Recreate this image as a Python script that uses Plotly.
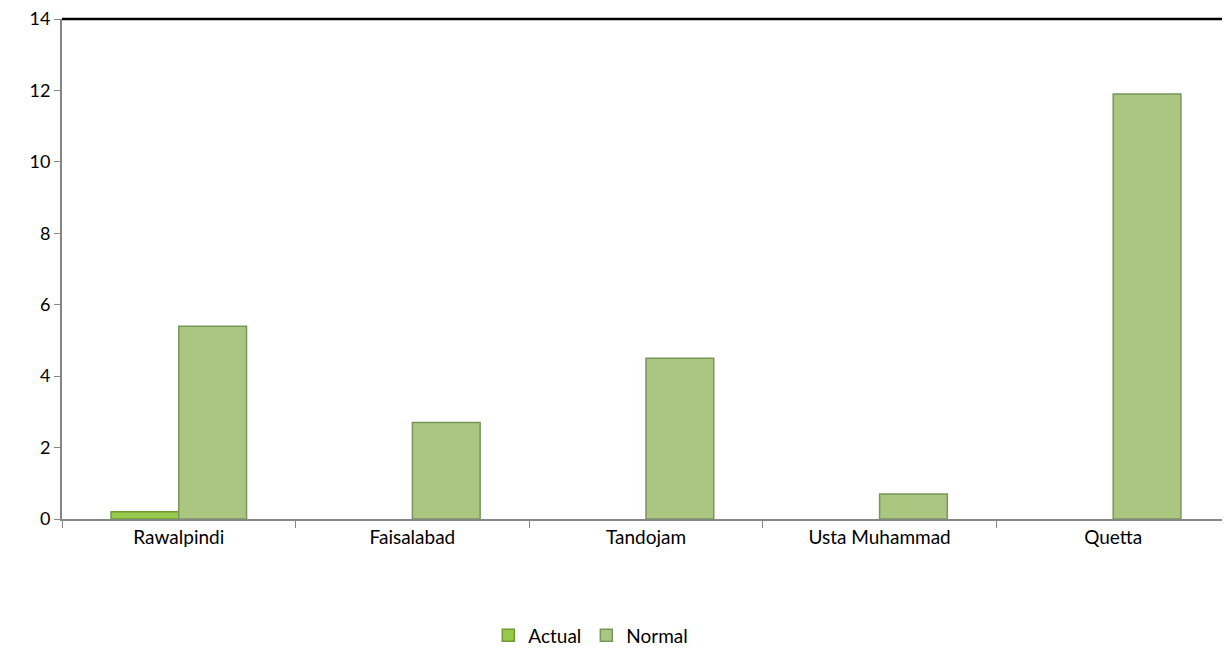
import plotly.graph_objects as go

categories = ["Rawalpindi", "Faisalabad", "Tandojam", "Usta Muhammad", "Quetta"]
actual = [0.2, 0, 0, 0, 0]
normal = [5.4, 2.7, 4.5, 0.7, 11.9]
y_ticks = [0, 2, 4, 6, 8, 10, 12, 14]

fig = go.Figure()
fig.add_trace(go.Bar(
    x=categories, y=actual, name="Actual",
    marker=dict(color="#97C94E",
                line=dict(color="#6E9A2E", width=[1.5 if v > 0 else 0 for v in actual])),
))
fig.add_trace(go.Bar(
    x=categories, y=normal, name="Normal",
    marker=dict(color="#ABC680",
                line=dict(color="#7A955C", width=[1.5 if v > 0 else 0 for v in normal])),
))

font = dict(family="Lato, Open Sans, Liberation Sans, sans-serif", size=19, color="#000000")

fig.update_layout(
    width=1222, height=647,
    margin=dict(l=54, r=0, t=11, b=136, autoexpand=False),
    paper_bgcolor="white", plot_bgcolor="white",
    barmode="group", bargap=0.42, bargroupgap=0,
    font=font,
    showlegend=True,
    legend=dict(orientation="h", x=0.365, xanchor="left", y=-0.195, yanchor="top",
                font=dict(size=19), itemwidth=30, traceorder="normal"),
    xaxis=dict(
        type="category", showgrid=False, showline=True, linecolor="#868686", linewidth=2,
        ticks="outside", tickson="boundaries", ticklen=7, tickcolor="#868686",
        tickfont=dict(size=19), zeroline=False, automargin=False,
    ),
    yaxis=dict(
        range=[0, 14], tickvals=y_ticks, showgrid=False, showline=True,
        linecolor="#868686", linewidth=2, ticks="outside", ticklen=6, tickcolor="#868686",
        tickfont=dict(size=18), zeroline=False, automargin=False,
        ticklabeloverflow="allow",
    ),
)
fig.add_shape(type="line", xref="paper", yref="paper", x0=0, x1=1, y0=1, y1=1,
              line=dict(color="#000000", width=2.5))

fig.write_html("out.html")
